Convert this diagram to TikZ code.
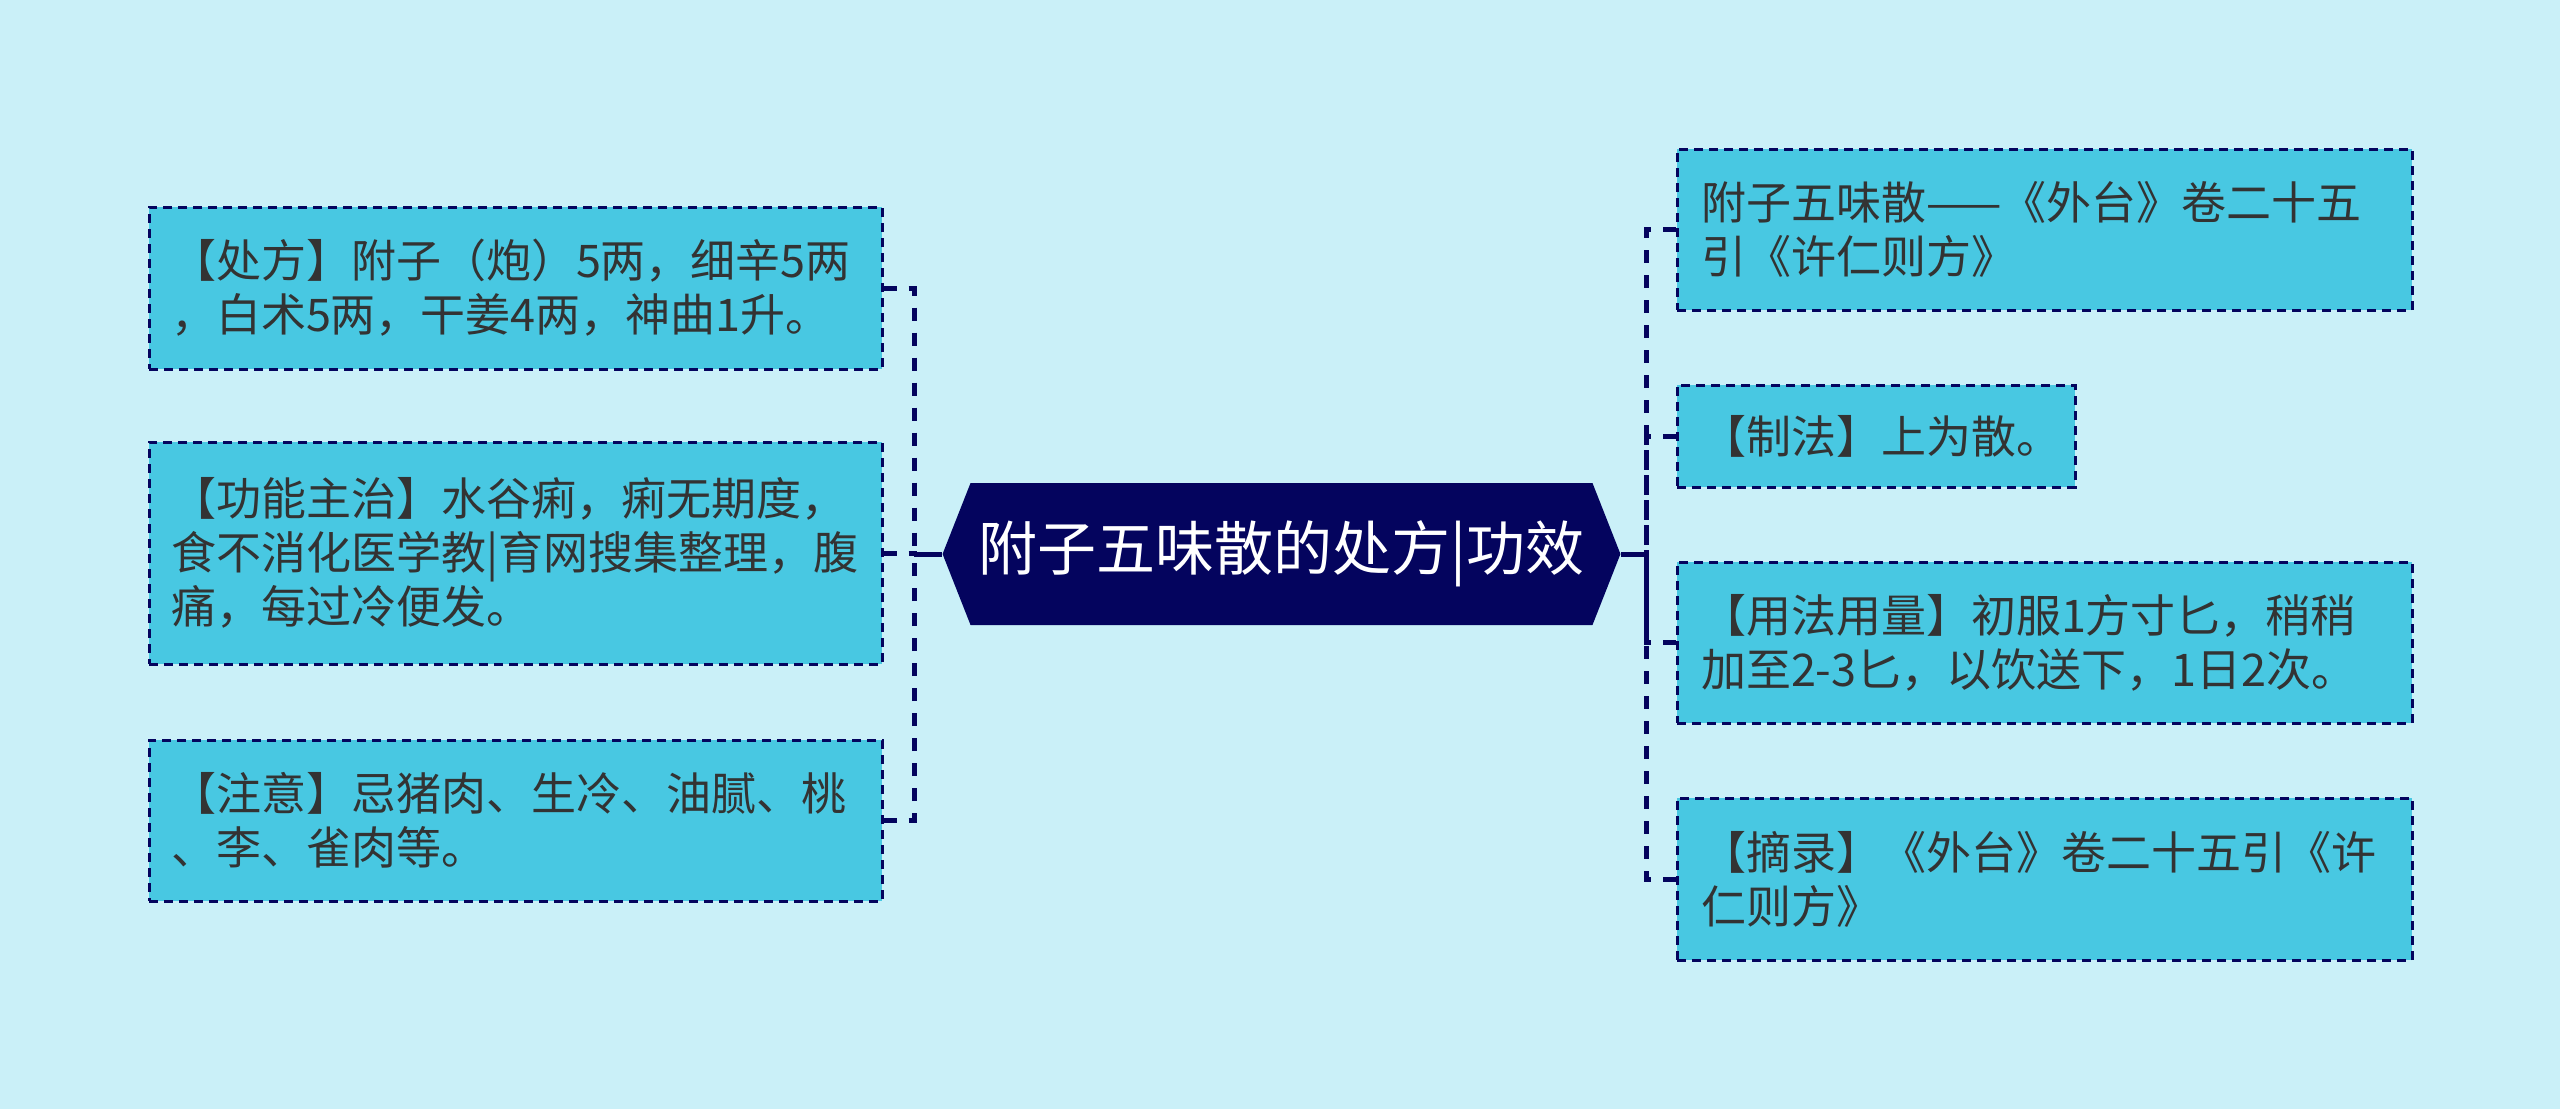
\documentclass[tikz,border=0pt]{standalone}
\usepackage{fontspec}
\setmainfont{Noto Sans CJK SC}
\usetikzlibrary{shapes.symbols}

\definecolor{bgcyan}{RGB}{202,240,248}
\definecolor{boxfill}{RGB}{72,200,226}
\definecolor{navy}{RGB}{4,4,94}
\definecolor{textgray}{RGB}{51,51,51}

\begin{document}
\begin{tikzpicture}[x=0.5pt, y=-0.5pt,
    leaf/.style={draw=navy, dash pattern=on 4.5pt off 3pt, line width=1.5pt, fill=boxfill,
        text=textgray, font=\fontsize{22.5pt}{27pt}\selectfont, align=left, inner xsep=11pt},
    title/.style={signal, signal to=west and east, signal pointer angle=137, fill=navy,
        text=white, font=\fontsize{29.5pt}{35pt}\selectfont, inner xsep=4pt,
        minimum width=334.5pt, minimum height=71pt},
    twig/.style={draw=navy, line width=2.5pt, dash pattern=on 6.5pt off 6pt},
    branch/.style={draw=navy, line width=2.5pt}]
            \fill[bgcyan] (0, 0) rectangle (2560, 1109);

            \node[title] (title) at (1281.5, 554){附子五味散的处方|功效};

            % left side
            \node[leaf, text width=344.5pt, minimum height=81pt] (L1) at (515.5, 288)
                {【处方】附子（炮）5两，细辛5两\\，白术5两，干姜4两，神曲1升。};
            \node[leaf, text width=344.5pt, minimum height=111pt] (L2) at (515.5, 553)
                {【功能主治】水谷痢，痢无期度，\\食不消化医学教|育网搜集整理，腹\\痛，每过冷便发。};
            \node[leaf, text width=344.5pt, minimum height=80.5pt] (L3) at (515.5, 820.5)
                {【注意】忌猪肉、生冷、油腻、桃\\、李、雀肉等。};

            % right side
            \node[leaf, text width=343.5pt, minimum height=80.5pt, inner xsep=12pt] (R1) at (2044.5, 229.5)
                {附子五味散——《外台》卷二十五\\引《许仁则方》};
            \node[leaf, text width=175pt, minimum height=51pt, inner xsep=12pt] (R2) at (1876, 436)
                {【制法】上为散。};
            \node[leaf, text width=343.5pt, minimum height=80.5pt, inner xsep=12pt] (R3) at (2044.5, 642.5)
                {【用法用量】初服1方寸匕，稍稍\\加至2-3匕，以饮送下，1日2次。};
            \node[leaf, text width=343.5pt, minimum height=81pt, inner xsep=12pt] (R4) at (2044.5, 879)
                {【摘录】《外台》卷二十五引《许\\仁则方》};

            \coordinate (lj) at (914, 554);
            \coordinate (rj) at (1646, 554);

            \foreach \b in {L1, L2, L3} {
                \draw[twig] (\b.east) -| (lj);
            }
            \foreach \b in {R1, R2, R3, R4} {
                \draw[twig] (\b.west) -| (rj);
            }
            \draw[branch] (title.west) -- (lj);
            \draw[branch] (title.east) -- (rj);
\end{tikzpicture}
\end{document}
